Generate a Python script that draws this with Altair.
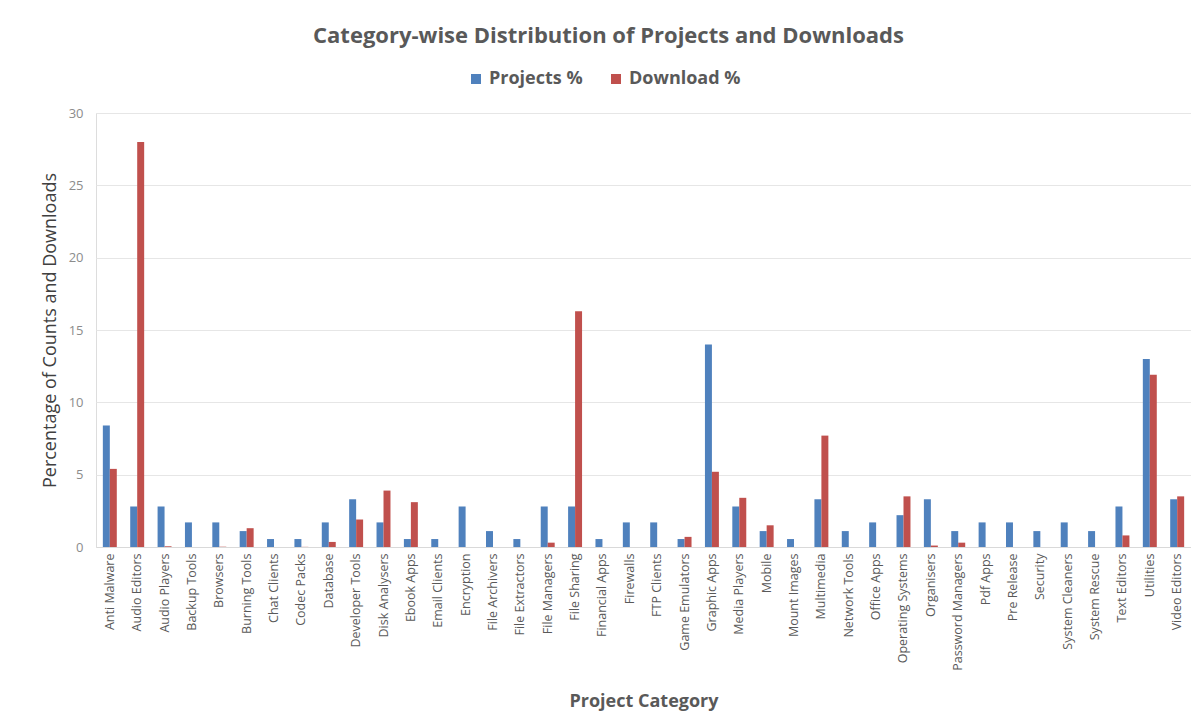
import altair as alt
import pandas as pd

categories = ["Anti Malware", "Audio Editors", "Audio Players", "Backup Tools", "Browsers",
              "Burning Tools", "Chat Clients", "Codec Packs", "Database", "Developer Tools",
              "Disk Analysers", "Ebook Apps", "Email Clients", "Encryption", "File Archivers",
              "File Extractors", "File Managers", "File Sharing", "Financial Apps", "Firewalls",
              "FTP Clients", "Game Emulators", "Graphic Apps", "Media Players", "Mobile",
              "Mount Images", "Multimedia", "Network Tools", "Office Apps", "Operating Systems",
              "Organisers", "Password Managers", "Pdf Apps", "Pre Release", "Security",
              "System Cleaners", "System Rescue", "Text Editors", "Utilities", "Video Editors"]

projects_pct = [8.4, 2.8, 2.8, 1.7, 1.7,
                1.1, 0.55, 0.55, 1.7, 3.3,
                1.7, 0.55, 0.55, 2.8, 1.1,
                0.55, 2.8, 2.8, 0.55, 1.7,
                1.7, 0.55, 14.0, 2.8, 1.1,
                0.55, 3.3, 1.1, 1.7, 2.2,
                3.3, 1.1, 1.7, 1.7, 1.1,
                1.7, 1.1, 2.8, 13.0, 3.3]

download_pct = [5.4, 28.0, 0.05, 0.0, 0.02,
                1.3, 0.0, 0.01, 0.35, 1.9,
                3.9, 3.1, 0.0, 0.0, 0.0,
                0.0, 0.3, 16.3, 0.0, 0.0,
                0.0, 0.7, 5.2, 3.4, 1.5,
                0.0, 7.7, 0.0, 0.0, 3.5,
                0.1, 0.3, 0.0, 0.0, 0.0,
                0.0, 0.0, 0.8, 11.9, 3.5]

series_names = ["Projects %", "Download %"]
series_colors = ["#4F81BD", "#C0504D"]

rows = []
for c, p, d in zip(categories, projects_pct, download_pct):
    rows.append({"Category": c, "Series": series_names[0], "Value": p})
    rows.append({"Category": c, "Series": series_names[1], "Value": d})
df = pd.DataFrame(rows)

FONT = "Open Sans"
GREY = "#595959"

chart = alt.Chart(df).mark_bar().encode(
    x=alt.X("Category:N", sort=categories,
            scale=alt.Scale(paddingInner=0.49, paddingOuter=0.25),
            axis=alt.Axis(title="Project Category", labelAngle=270, labelFontSize=12.5,
                          labelColor=GREY, titleColor=GREY, titleFontSize=18,
                          titleFont=FONT, labelFont=FONT, titlePadding=22,
                          ticks=False, domainColor="#d9d9d9", labelPadding=6)),
    xOffset=alt.XOffset("Series:N", sort=series_names),
    y=alt.Y("Value:Q", scale=alt.Scale(domain=[0, 30]),
            axis=alt.Axis(title="Percentage of Counts and Downloads", values=[0, 5, 10, 15, 20, 25, 30],
                          labelFontSize=13, labelColor="#8c8c8c", titleColor="#404040",
                          titleFontSize=18, titleFont=FONT, labelFont=FONT,
                          titleFontWeight="normal", ticks=False, domain=False,
                          gridColor="#e6e6e6", labelPadding=13, titlePadding=9)),
    color=alt.Color("Series:N", sort=series_names,
                    scale=alt.Scale(domain=series_names, range=series_colors),
                    legend=alt.Legend(title=None, orient="none", direction="horizontal",
                                      legendX=371, legendY=-43, labelFontSize=18,
                                      labelColor=GREY, labelFont=FONT, symbolType="square",
                                      symbolSize=100, columnPadding=24, labelFontWeight="bold")),
).properties(
    width=1095,
    height=434,
    padding={"left": 33, "top": 17, "right": 0, "bottom": 5},
    title=alt.Title("Category-wise Distribution of Projects and Downloads",
                    fontSize=22, color=GREY, font=FONT, fontWeight="bold",
                    anchor="middle", offset=22, dx=-35),
).configure_view(stroke=None).configure(background="white")

chart.save("out.html", embed_options={"renderer": "svg", "actions": False})
